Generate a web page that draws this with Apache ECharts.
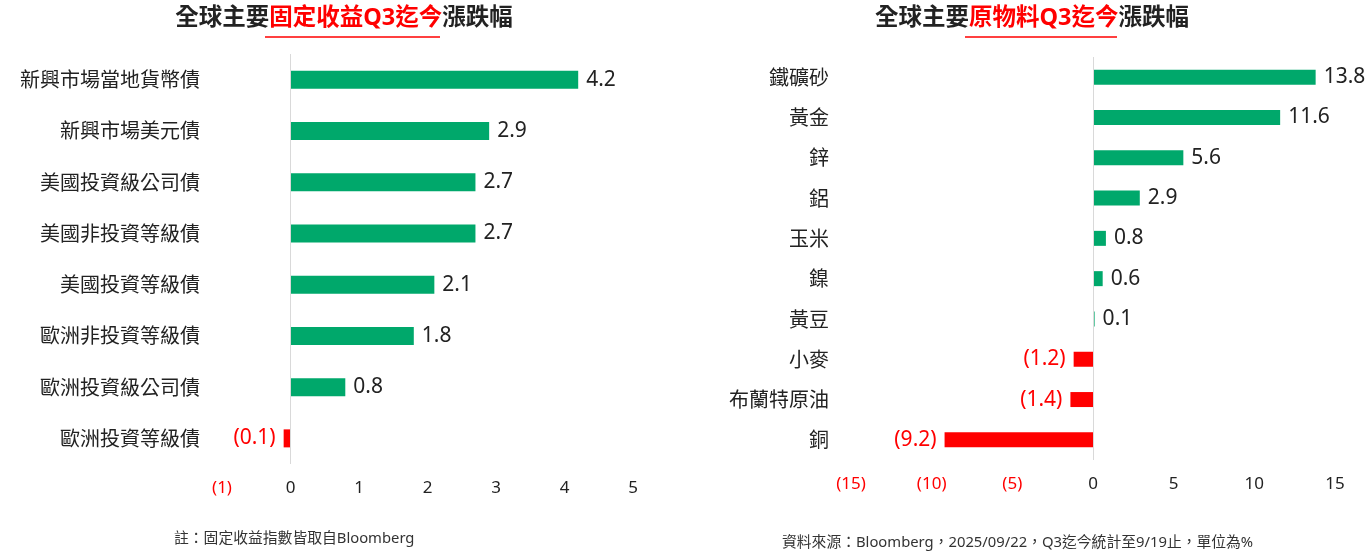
<!DOCTYPE html>
<html>
<head>
<meta charset="utf-8">
<script src="https://cdn.jsdelivr.net/npm/echarts@6/dist/echarts.min.js"></script>
<style>html,body{margin:0;padding:0;background:#fff}#c{width:1365px;height:552px}</style>
</head>
<body>
<div id="c"></div>
<script>
// ---- data ----
const bondCategories = ['新興市場當地貨幣債','新興市場美元債','美國投資級公司債','美國非投資等級債','美國投資等級債','歐洲非投資等級債','歐洲投資級公司債','歐洲投資等級債'];
const bondValues = [4.2, 2.9, 2.7, 2.7, 2.1, 1.8, 0.8, -0.1];
const commodityCategories = ['鐵礦砂','黃金','鋅','鋁','玉米','鎳','黃豆','小麥','布蘭特原油','銅'];
const commodityValues = [13.8, 11.6, 5.6, 2.9, 0.8, 0.6, 0.1, -1.2, -1.4, -9.2];
const bondTicks = [-1, 0, 1, 2, 3, 4, 5];
const commodityTicks = [-15, -10, -5, 0, 5, 10, 15];

const GREEN = '#00A86B', RED = '#FF0000', DARK = '#222222';
const FONT = "'Noto Sans', 'Noto Sans CJK TC', sans-serif";

function fmt(v){ return v < 0 ? '(' + Math.abs(v) + ')' : String(v); }
function buildData(vals){
  return vals.map(v => ({
    value: v,
    itemStyle: { color: v < 0 ? RED : GREEN },
    label: { position: v < 0 ? 'left' : 'right', color: v < 0 ? RED : DARK }
  }));
}
function xAxisFor(idx, ticks){
  return {
    type: 'value', gridIndex: idx,
    min: ticks[0], max: ticks[ticks.length-1], interval: ticks[1]-ticks[0],
    axisLine: {show:false}, axisTick: {show:false}, splitLine: {show:false},
    axisLabel: {
      margin: 16, fontSize: 17, fontFamily: FONT, color: DARK,
      formatter: v => v < 0 ? '{n|' + fmt(v) + '}' : '{p|' + v + '}',
      rich: { n: {color: RED, fontSize: 17, fontFamily: FONT}, p: {color: DARK, fontSize: 17, fontFamily: FONT} }
    }
  };
}
function yAxisFor(idx, cats){
  return {
    type: 'category', gridIndex: idx, data: cats, inverse: true,
    axisLine: {show:false}, axisTick: {show:false},
    axisLabel: { margin: 22, fontSize: 20, color: DARK, fontFamily: "'Noto Sans CJK TC', sans-serif" }
  };
}
function seriesFor(idx, vals, bw){
  return {
    type: 'bar', xAxisIndex: idx, yAxisIndex: idx, barWidth: bw,
    data: buildData(vals),
    label: { show: true, distance: 8, fontSize: 21, fontFamily: FONT, formatter: p => fmt(p.value) },
    markLine: {
      silent: true, symbol: 'none', label: {show:false},
      lineStyle: { color: '#d9d9d9', width: 1, type: 'solid' },
      data: [{ xAxis: 0 }]
    },
    animation: false
  };
}

const titleRich = {
  a: { fontSize: 23.5, fontWeight: 'bold', color: DARK, fontFamily: FONT },
  r: { fontSize: 23.5, fontWeight: 'bold', color: RED, fontFamily: FONT }
};

const chart = echarts.init(document.getElementById('c'), null, {renderer: 'canvas'});
chart.setOption({
  backgroundColor: '#fff',
  animation: false,
  title: [
    { text: '{a|全球主要}{r|固定收益Q3迄今}{a|漲跌幅}', left: 339, top: 2, textAlign: 'center', textStyle: { rich: titleRich } },
    { text: '{a|全球主要}{r|原物料Q3迄今}{a|漲跌幅}', left: 1027, top: 2, textAlign: 'center', textStyle: { rich: titleRich } },
    { text: '註：固定收益指數皆取自Bloomberg', left: 169, top: 526, textStyle: { fontSize: 14.8, fontWeight: 'normal', color: '#333', fontFamily: FONT } },
    { text: '資料來源：Bloomberg，2025/09/22，Q3迄今統計至9/19止，單位為%', left: 777, top: 530, textStyle: { fontSize: 14.8, fontWeight: 'normal', color: '#333', fontFamily: FONT } }
  ],
  graphic: [
    { type: 'line', shape: { x1: 265, y1: 37, x2: 440, y2: 37 }, style: { stroke: RED, lineWidth: 1.5 } },
    { type: 'line', shape: { x1: 965, y1: 37, x2: 1117, y2: 37 }, style: { stroke: RED, lineWidth: 1.5 } }
  ],
  grid: [
    { left: 222, width: 411, top: 54, height: 410 },
    { left: 851, width: 484, top: 57, height: 403 }
  ],
  xAxis: [ xAxisFor(0, bondTicks), xAxisFor(1, commodityTicks) ],
  yAxis: [ yAxisFor(0, bondCategories), yAxisFor(1, commodityCategories) ],
  series: [ seriesFor(0, bondValues, 18), seriesFor(1, commodityValues, 15) ]
});
</script>
</body>
</html>
